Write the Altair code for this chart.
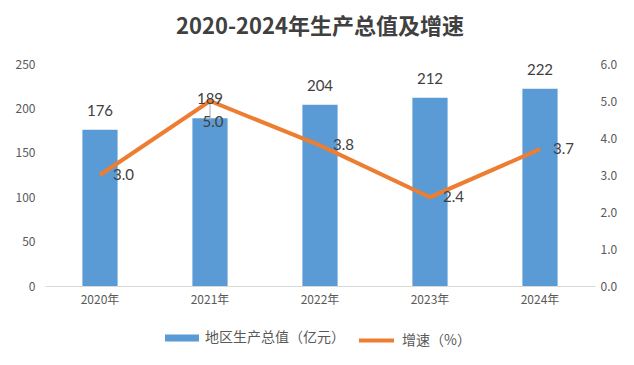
import altair as alt
import pandas as pd

years = ["2020年", "2021年", "2022年", "2023年", "2024年"]
gdp = [176, 189, 204, 212, 222]
growth = [3.0, 5.0, 3.8, 2.4, 3.7]
bar_name = "地区生产总值（亿元）"
line_name = "增速（%）"

df = pd.DataFrame({"year": years, "gdp": gdp, "growth": growth})

FONT = "Noto Sans CJK SC"
LABEL = "#595959"
BLUE = "#5B9BD5"
ORANGE = "#ED7D31"

x_enc = alt.X(
    "year:N", sort=years, title=None,
    scale=alt.Scale(paddingInner=0.68, paddingOuter=0.34),
    axis=alt.Axis(labelAngle=0, domainColor="#D9D9D9", ticks=False, labelPadding=8,
                  labelColor=LABEL, labelFontSize=12, labelFont=FONT, grid=False),
)

base = alt.Chart(df).encode(x=x_enc)
gs = alt.Scale(domain=[0, 250])
gy = alt.Scale(domain=[0, 6])

bars = base.transform_calculate(s=f"'{bar_name}'").mark_bar().encode(
    y=alt.Y("gdp:Q", title=None, scale=gs,
            axis=alt.Axis(values=[0, 50, 100, 150, 200, 250], domain=False, ticks=False,
                          grid=False, labelPadding=10, labelColor=LABEL,
                          labelFontSize=12, labelFont=FONT)),
    fill=alt.Fill("s:N", scale=alt.Scale(domain=[bar_name], range=[BLUE]),
                  legend=alt.Legend(orient="none", legendX=120, legendY=257, title=None,
                                    symbolType="M-1,-0.2H1V0.2H-1Z", symbolSize=1156,
                                    symbolStrokeWidth=0, labelFontSize=14, labelColor=LABEL,
                                    labelFont=FONT, labelOffset=6)),
)
bar_labels = base.mark_text(baseline="middle", dy=-19, fontSize=15, color="#404040",
                            font="Lato").encode(
    y=alt.Y("gdp:Q", axis=None, scale=gs),
    text=alt.Text("gdp:Q"),
)

line = base.transform_calculate(s2=f"'{line_name}'").mark_line(strokeWidth=4).encode(
    y=alt.Y("growth:Q", title=None, scale=gy,
            axis=alt.Axis(orient="right", values=[0, 1, 2, 3, 4, 5, 6], format=".1f",
                          domain=False, ticks=False, grid=False, labelPadding=5,
                          labelColor=LABEL, labelFontSize=12, labelFont=FONT)),
    stroke=alt.Stroke("s2:N", scale=alt.Scale(domain=[line_name], range=[ORANGE]),
                      legend=alt.Legend(orient="none", legendX=312, legendY=257, title=None,
                                        symbolType="stroke", symbolSize=1225,
                                        symbolStrokeWidth=4, labelFontSize=14,
                                        labelColor=LABEL, labelFont=FONT, labelOffset=6)),
)
line_labels = base.transform_filter(alt.datum.year != "2021年").mark_text(
    align="left", baseline="middle", dx=13, fontSize=15, color="#404040", font="Lato"
).encode(y=alt.Y("growth:Q", axis=None, scale=gy), text=alt.Text("growth:Q", format=".1f"))

label21 = base.transform_filter(alt.datum.year == "2021年").mark_text(
    align="center", baseline="middle", dx=3, dy=21, fontSize=15, color="#404040", font="Lato"
).encode(y=alt.Y("growth:Q", axis=None, scale=gy), text=alt.Text("growth:Q", format=".1f"))

leader = base.transform_filter(alt.datum.year == "2021年").transform_calculate(
    y2v="datum.growth - 0.6"
).mark_rule(color="#A6A6A6", strokeWidth=1).encode(
    y=alt.Y("growth:Q", axis=None, scale=gy), y2="y2v:Q"
)

chart = alt.layer(
    bars, leader, line, bar_labels, line_labels, label21
).resolve_scale(y="independent", fill="independent", stroke="independent").properties(
    width=550, height=222,
    autosize=alt.AutoSizeParams(type="none"),
    padding={"left": 37, "top": 56, "right": 31, "bottom": 71},
    title=alt.TitleParams("2020-2024年生产总值及增速", font=FONT, fontSize=22,
                          fontWeight="bold", color="#404040", anchor="middle",
                          frame="group", offset=19),
).configure_view(stroke=None)

chart.save("out.html", embed_options={"renderer": "svg", "actions": False})
